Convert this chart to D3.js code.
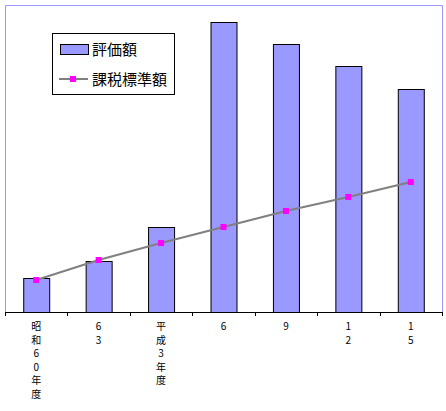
<!DOCTYPE html><html><head><meta charset="utf-8"><script src="https://cdn.jsdelivr.net/npm/d3@7"></script>
<style>body{margin:0;background:#fff}</style></head><body><svg id="c" width="446" height="411"></svg><script>
const categories=["昭和60年度","63","平成3年度","6","9","12","15"];
const hyoka=[34,51,85,290,268,246,223];
const kazei=[32,52,69,85,101,115,130];
const svg=d3.select("#c");
const L=5,R=442,T=5,B=312;
const x=d3.scaleBand().domain(categories).range([L,R]);
const y=d3.scaleLinear().domain([0,307]).range([B,T]);
const bw=26;
svg.append("path").attr("d",`M${L+0.5},${B}V${T+0.5}H${R+0.5}V${B}`).attr("fill","none").attr("stroke","#9999ff");
svg.selectAll(".bar").data(hyoka).join("rect").attr("x",(d,i)=>x(categories[i])+x.bandwidth()/2-bw/2+0.5).attr("y",d=>y(d)+0.5)
 .attr("width",bw).attr("height",d=>B-y(d)).attr("fill","#9999ff").attr("stroke","#000");
svg.append("line").attr("x1",L).attr("x2",R+1).attr("y1",B+0.5).attr("y2",B+0.5).attr("stroke","#000");
categories.forEach((c,i)=>{const bx=Math.round(x(c))+0.5;svg.append("line").attr("x1",bx).attr("x2",bx).attr("y1",B).attr("y2",B+4).attr("stroke","#000");
 [...c].forEach((ch,j)=>svg.append("text").attr("x",x(c)+x.bandwidth()/2).attr("y",330+j*13.5).attr("text-anchor","middle").attr("font-family","Noto Sans CJK JP").attr("font-size",10).text(ch));});
svg.append("line").attr("x1",R+0.5).attr("x2",R+0.5).attr("y1",B).attr("y2",B+4).attr("stroke","#000");
const cx=(d,i)=>x(categories[i])+x.bandwidth()/2;
svg.append("path").datum(kazei).attr("d",d3.line().x(cx).y(d=>y(d))).attr("fill","none").attr("stroke","#808080").attr("stroke-width",2);
svg.selectAll(".pt").data(kazei).join("rect").attr("x",(d,i)=>cx(d,i)-3).attr("y",d=>y(d)-3).attr("width",6).attr("height",6).attr("fill","#ff00ff");
const lg=svg.append("g");
lg.append("rect").attr("x",52.5).attr("y",33.5).attr("width",122).attr("height",61).attr("fill","#fff").attr("stroke","#000");
lg.append("rect").attr("x",60.5).attr("y",44.5).attr("width",28).attr("height",10).attr("fill","#9999ff").attr("stroke","#000");
lg.append("text").attr("x",92).attr("y",55).attr("font-family","Noto Sans CJK JP").attr("font-size",15).text("評価額");
lg.append("line").attr("x1",59).attr("x2",88).attr("y1",79).attr("y2",79).attr("stroke","#808080").attr("stroke-width",2);
lg.append("rect").attr("x",70).attr("y",76).attr("width",6).attr("height",6).attr("fill","#ff00ff");
lg.append("text").attr("x",92).attr("y",85).attr("font-family","Noto Sans CJK JP").attr("font-size",15).text("課税標準額");
</script></body></html>
